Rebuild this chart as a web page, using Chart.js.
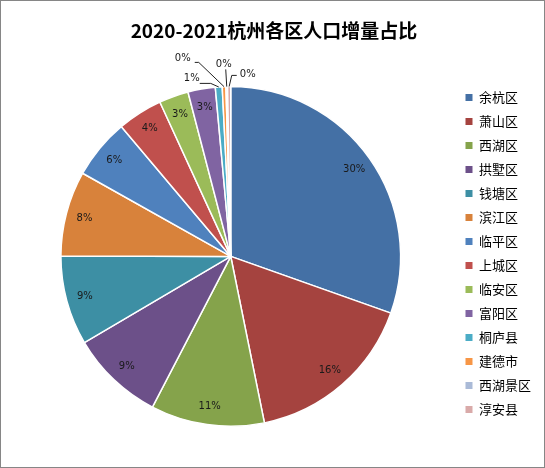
<!DOCTYPE html>
<html>
<head>
<meta charset="utf-8">
<script src="https://cdn.jsdelivr.net/npm/chart.js@4.4.1/dist/chart.umd.min.js"></script>
<style>
body { margin: 0; background: #fff; }
#wrap { width: 545px; height: 468px; }
</style>
</head>
<body>
<div id="wrap"><canvas id="pieChart"></canvas></div>
<script>
var districts = ["余杭区", "萧山区", "西湖区", "拱墅区", "钱塘区", "滨江区", "临平区",
	"上城区", "临安区", "富阳区", "桐庐县", "建德市", "西湖景区", "淳安县"];
// share of the population increase, in percent
var shares = [30.4, 16.4, 10.8, 8.9, 8.5, 8.1, 5.7, 4.3, 2.8, 2.6, 0.65, 0.35, 0.15, 0.3];
var sliceColors = ["#4470a5", "#a5433f", "#85a34b", "#6c5089", "#3d8fa4", "#d8823b", "#4f81bd",
	"#c0504d", "#9bbb59", "#8064a2", "#4bacc6", "#f79646", "#aabad7", "#d9aaa9"];

// callouts for the thin slices: label centre, then bend points, relative to pie centre
var callouts = {
	10: [[-39, -178], [-31, -173], [-20, -173]],
	11: [[-48, -198], [-36, -194], [-32, -194]],
	12: [[-7, -192], [-5, -187]],
	13: [[17, -182], [6, -181], [1, -181]]
};

var pieLabels = {
	id: "pieLabels",
	afterDatasetsDraw: function (chart) {
		var ctx = chart.ctx;
		var meta = chart.getDatasetMeta(0);
		var total = shares.reduce(function (a, b) { return a + b; }, 0);
		ctx.save();
		ctx.font = "10px 'DejaVu Sans'";
		ctx.fillStyle = "#1a1a1a";
		ctx.strokeStyle = "#222";
		ctx.lineWidth = 1;
		ctx.textAlign = "center";
		ctx.textBaseline = "middle";
		meta.data.forEach(function (arc, i) {
			var p = arc.getProps(["x", "y", "startAngle", "endAngle", "outerRadius"], true);
			var mid = (p.startAngle + p.endAngle) / 2;
			var text = Math.round(shares[i] / total * 100) + "%";
			var c = callouts[i];
			if (c) {
				ctx.beginPath();
				ctx.moveTo(p.x + c[1][0], p.y + c[1][1]);
				for (var k = 2; k < c.length; k++) ctx.lineTo(p.x + c[k][0], p.y + c[k][1]);
				ctx.lineTo(p.x + Math.cos(mid) * p.outerRadius, p.y + Math.sin(mid) * p.outerRadius);
				ctx.stroke();
				ctx.fillText(text, p.x + c[0][0], p.y + c[0][1]);
			} else {
				var r = p.outerRadius * 0.89;
				ctx.fillText(text, p.x + Math.cos(mid) * r, p.y + Math.sin(mid) * r);
			}
		});
		ctx.restore();
	}
};

var frame = {
	id: "frame",
	afterDraw: function (chart) {
		var ctx = chart.ctx;
		ctx.save();
		ctx.strokeStyle = "#868686";
		ctx.lineWidth = 1;
		ctx.strokeRect(0.5, 0.5, chart.width - 1, chart.height - 1);
		ctx.restore();
	}
};

var pieChart = new Chart(document.getElementById("pieChart"), {
	type: "pie",
	data: {
		labels: districts,
		datasets: [
			{
				data: shares,
				backgroundColor: sliceColors,
				borderColor: "#ffffff",
				borderWidth: 1.5,
				hoverOffset: 0
			},
		],
	},
	options: {
		responsive: true,
		maintainAspectRatio: false,
		animation: false,
		layout: { padding: { left: 7, right: 4, top: 0, bottom: 41 } },
		plugins: {
			title: {
				display: true,
				text: "2020-2021杭州各区人口增量占比",
				color: "#000",
				font: { family: "'Noto Sans CJK SC'", size: 19, weight: "bold", lineHeight: 1.2 },
				padding: { top: 19, bottom: 44 }
			},
			legend: {
				position: "right",
				align: "end",
				labels: {
					boxWidth: 7,
					boxHeight: 7,
					padding: 11,
					color: "#000",
					font: { family: "'Noto Sans CJK SC'", size: 13 },
					generateLabels: function (chart) {
						var items = Chart.overrides.pie.plugins.legend.labels.generateLabels(chart);
						items.forEach(function (it) { it.lineWidth = 0; it.strokeStyle = it.fillStyle; });
						return items;
					}
				}
			},
			tooltip: { enabled: false }
		}
	},
	plugins: [pieLabels, frame]
});
</script>
</body>
</html>
